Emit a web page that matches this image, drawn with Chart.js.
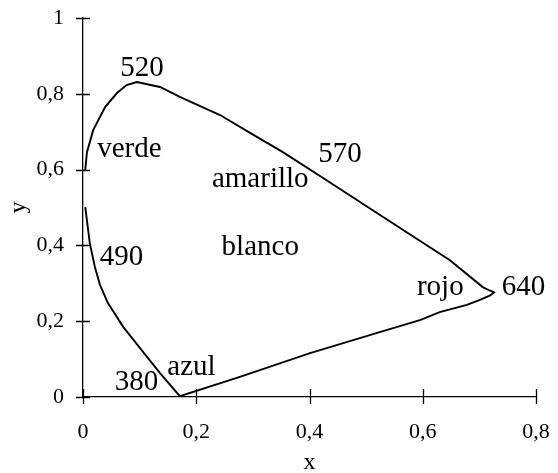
<!DOCTYPE html>
<html>
<head>
<meta charset="utf-8">
<script src="https://cdn.jsdelivr.net/npm/chart.js@4"></script>
<style>
  html, body { margin: 0; padding: 0; background: #fff; }
  #wrap { width: 558px; height: 473px; }
</style>
</head>
<body>
<div id="wrap"><canvas id="c" width="558" height="473"></canvas></div>
<script>
// Spectral locus (open outline), traced from 490 nm down to 380 nm,
// along the purple line to 640 nm, then back over 570 and 520 nm.
const locusX = [0.004, 0.012, 0.021, 0.030, 0.044, 0.071, 0.113, 0.136, 0.171,
                0.277, 0.401, 0.524, 0.595, 0.630, 0.678, 0.701, 0.719, 0.726,
                0.718, 0.706, 0.648, 0.530, 0.424, 0.353, 0.295, 0.242, 0.171,
                0.136, 0.095, 0.077, 0.060, 0.039, 0.018, 0.007, 0.004];
const locusY = [0.501, 0.406, 0.343, 0.296, 0.248, 0.185, 0.106, 0.063, 0.002,
                0.053, 0.116, 0.171, 0.203, 0.224, 0.243, 0.256, 0.268, 0.276,
                0.281, 0.290, 0.361, 0.475, 0.578, 0.646, 0.697, 0.744, 0.792,
                0.818, 0.831, 0.823, 0.802, 0.765, 0.704, 0.646, 0.599];

// Wavelength marks and colour-region names placed in data coordinates
const noteText = ['520', 'verde', '570', 'amarillo', 'blanco', '490', 'rojo', '640', '380', 'azul'];
const noteX    = [0.104, 0.082, 0.454, 0.313, 0.313, 0.068, 0.631, 0.778, 0.0945, 0.1916];
const noteY    = [0.847, 0.633, 0.620, 0.554, 0.375, 0.348, 0.269, 0.269, 0.018, 0.058];

// Axis tick values
const xTicks = [0, 0.2, 0.4, 0.6, 0.8];
const yTicks = [0, 0.2, 0.4, 0.6, 0.8, 1];

const SERIF = '"Liberation Serif", "Times New Roman", serif';
const fmt = v => String(Math.round(v * 10) / 10).replace('.', ',');

const points = locusX.map((x, i) => ({ x: x, y: locusY[i] }));

// Tick marks that cross the axis line on both sides
const crossTicks = {
  id: 'crossTicks',
  afterDraw(chart) {
    const { ctx, scales: { x, y } } = chart;
    ctx.save();
    ctx.strokeStyle = '#000';
    ctx.lineWidth = 1.3;
    ctx.beginPath();
    xTicks.forEach(v => {
      const px = Math.round(x.getPixelForValue(v)) + 0.5;
      const py = y.getPixelForValue(0);
      ctx.moveTo(px, py - 8);
      ctx.lineTo(px, py + 7);
    });
    yTicks.forEach(v => {
      const py = Math.round(y.getPixelForValue(v)) + 0.5;
      const px = x.getPixelForValue(0);
      ctx.moveTo(px - 7, py);
      ctx.lineTo(px + 7, py);
    });
    ctx.stroke();
    ctx.restore();
  }
};

// Text notes inside the plot
const notes = {
  id: 'notes',
  afterDatasetsDraw(chart) {
    const { ctx, scales: { x, y } } = chart;
    ctx.save();
    ctx.fillStyle = '#000';
    ctx.font = '29px ' + SERIF;
    ctx.textAlign = 'center';
    ctx.textBaseline = 'alphabetic';
    noteText.forEach((t, i) => {
      ctx.fillText(t, x.getPixelForValue(noteX[i]), y.getPixelForValue(noteY[i]));
    });
    ctx.restore();
  }
};

new Chart(document.getElementById('c'), {
  type: 'scatter',
  data: {
    datasets: [{
      data: points,
      showLine: true,
      borderColor: '#000',
      borderWidth: 1.9,
      pointRadius: 0,
      tension: 0,
      fill: false
    }]
  },
  options: {
    responsive: false,
    animation: false,
    events: [],
    layout: { padding: { top: 18, right: 22, bottom: 0, left: 0 } },
    plugins: { legend: { display: false }, tooltip: { enabled: false } },
    scales: {
      x: {
        type: 'linear',
        min: 0, max: 0.8,
        afterBuildTicks: s => { s.ticks = xTicks.map(v => ({ value: v })); },
        afterFit: s => {
          s.height = 76;
          s.paddingLeft = 0;
          s.paddingRight = 0;
        },
        grid: { display: false, drawTicks: false },
        border: { display: true, color: '#000', width: 1.3 },
        ticks: {
          color: '#000',
          padding: 22,
          maxRotation: 0,
          font: { family: SERIF, size: 22 },
          callback: v => fmt(v)
        },
        title: {
          display: true, text: 'x', color: '#000',
          font: { family: SERIF, size: 24, lineHeight: 1 },
          padding: { top: 0, bottom: -2 }
        }
      },
      y: {
        type: 'linear',
        min: 0, max: 1,
        afterBuildTicks: s => { s.ticks = yTicks.map(v => ({ value: v })); },
        afterFit: s => {
          s.width = 83;
          s.paddingTop = 0;
          s.paddingBottom = 0;
        },
        grid: { display: false, drawTicks: false },
        border: { display: true, color: '#000', width: 1.3 },
        ticks: {
          color: '#000',
          padding: 19,
          font: { family: SERIF, size: 22 },
          callback: v => fmt(v)
        },
        title: {
          display: true, text: 'y', color: '#000',
          font: { family: SERIF, size: 24, lineHeight: 1 },
          padding: { top: 7, bottom: 0 }
        }
      }
    }
  },
  plugins: [crossTicks, notes]
});
</script>
</body>
</html>
